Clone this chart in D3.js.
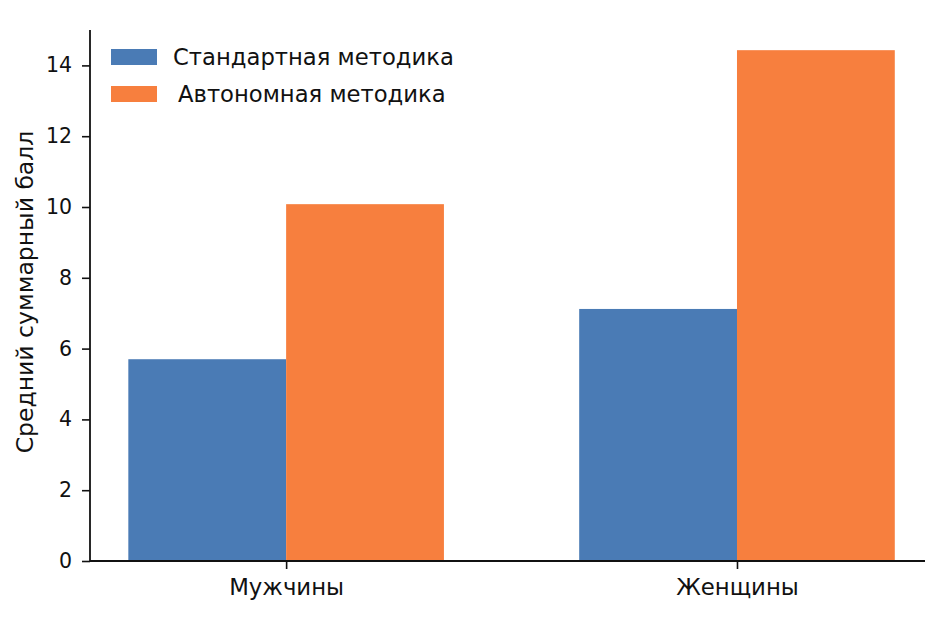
<!DOCTYPE html>
<html><head><meta charset="utf-8">
<script src="https://cdn.jsdelivr.net/npm/d3@7"></script>
<style>body{margin:0;background:#fff}text{font-family:"DejaVu Sans",sans-serif;fill:#111}</style>
</head><body><svg id="c" width="950" height="620"></svg>
<script>
const categories = ["Мужчины", "Женщины"];
const seriesNames = ["Стандартная методика", "Автономная методика"];
const standardValues = [5.70, 7.12];
const autonomousValues = [10.08, 14.43];
const yTicks = [0, 2, 4, 6, 8, 10, 12, 14];
const yLabel = "Средний суммарный балл";
const colors = ["#4a7bb5", "#f77f3e"];

(function () {
const svg = d3.select("#c");
const mLeft = 90, mRight = 925, mTop = 30, mBottom = 561;
const barW = 0.35;
const x = d3.scaleLinear().domain([-0.435, 1.417]).range([mLeft, mRight]);
const y = d3.scaleLinear().domain([0, 15.0]).range([mBottom, mTop]);

const series = [standardValues, autonomousValues];
series.forEach((vals, s) => {
  svg.append("g").selectAll("rect").data(vals).join("rect")
    .attr("x", (d, i) => s === 0 ? x(i - barW) : x(i))
    .attr("width", x(barW) - x(0))
    .attr("y", d => y(d))
    .attr("height", d => y(0) - y(d))
    .attr("fill", colors[s]);
});

const yAxis = svg.append("g").attr("transform", `translate(${mLeft},0)`)
  .call(d3.axisLeft(y).tickValues(yTicks).tickFormat(d3.format("d")).tickSize(8).tickPadding(10));
yAxis.select(".domain").attr("stroke", "#111").attr("stroke-width", 1.8).attr("d", `M0,${mBottom}V${mTop}`);
yAxis.selectAll(".tick line").attr("stroke", "#111").attr("stroke-width", 1.6);
yAxis.selectAll(".tick text").attr("font-size", 20.5).attr("fill", "#111").style("font-family", "DejaVu Sans");

const xAxis = svg.append("g").attr("transform", `translate(0,${mBottom})`)
  .call(d3.axisBottom(x).tickValues([0, 1]).tickFormat(i => categories[i]).tickSize(8).tickPadding(10));
xAxis.select(".domain").attr("stroke", "#111").attr("stroke-width", 1.8).attr("d", `M${mLeft},0H${mRight}`);
xAxis.selectAll(".tick line").attr("stroke", "#111").attr("stroke-width", 1.6);
xAxis.selectAll(".tick text").attr("font-size", 22.8).attr("fill", "#111").style("font-family", "DejaVu Sans");

svg.append("text").attr("transform", `translate(33,292) rotate(-90)`)
  .attr("text-anchor", "middle").attr("font-size", 23.5).text(yLabel);

const legend = svg.append("g");
seriesNames.forEach((name, i) => {
  const g = legend.append("g").attr("transform", `translate(111,${49 + i * 37})`);
  g.append("rect").attr("width", 46).attr("height", 16).attr("fill", colors[i]);
  g.append("text").attr("x", 62 + (i === 1 ? 5 : 0)).attr("y", 8).attr("dy", "0.35em")
    .attr("font-size", 22.7).text(name);
});
})();
</script></body></html>
